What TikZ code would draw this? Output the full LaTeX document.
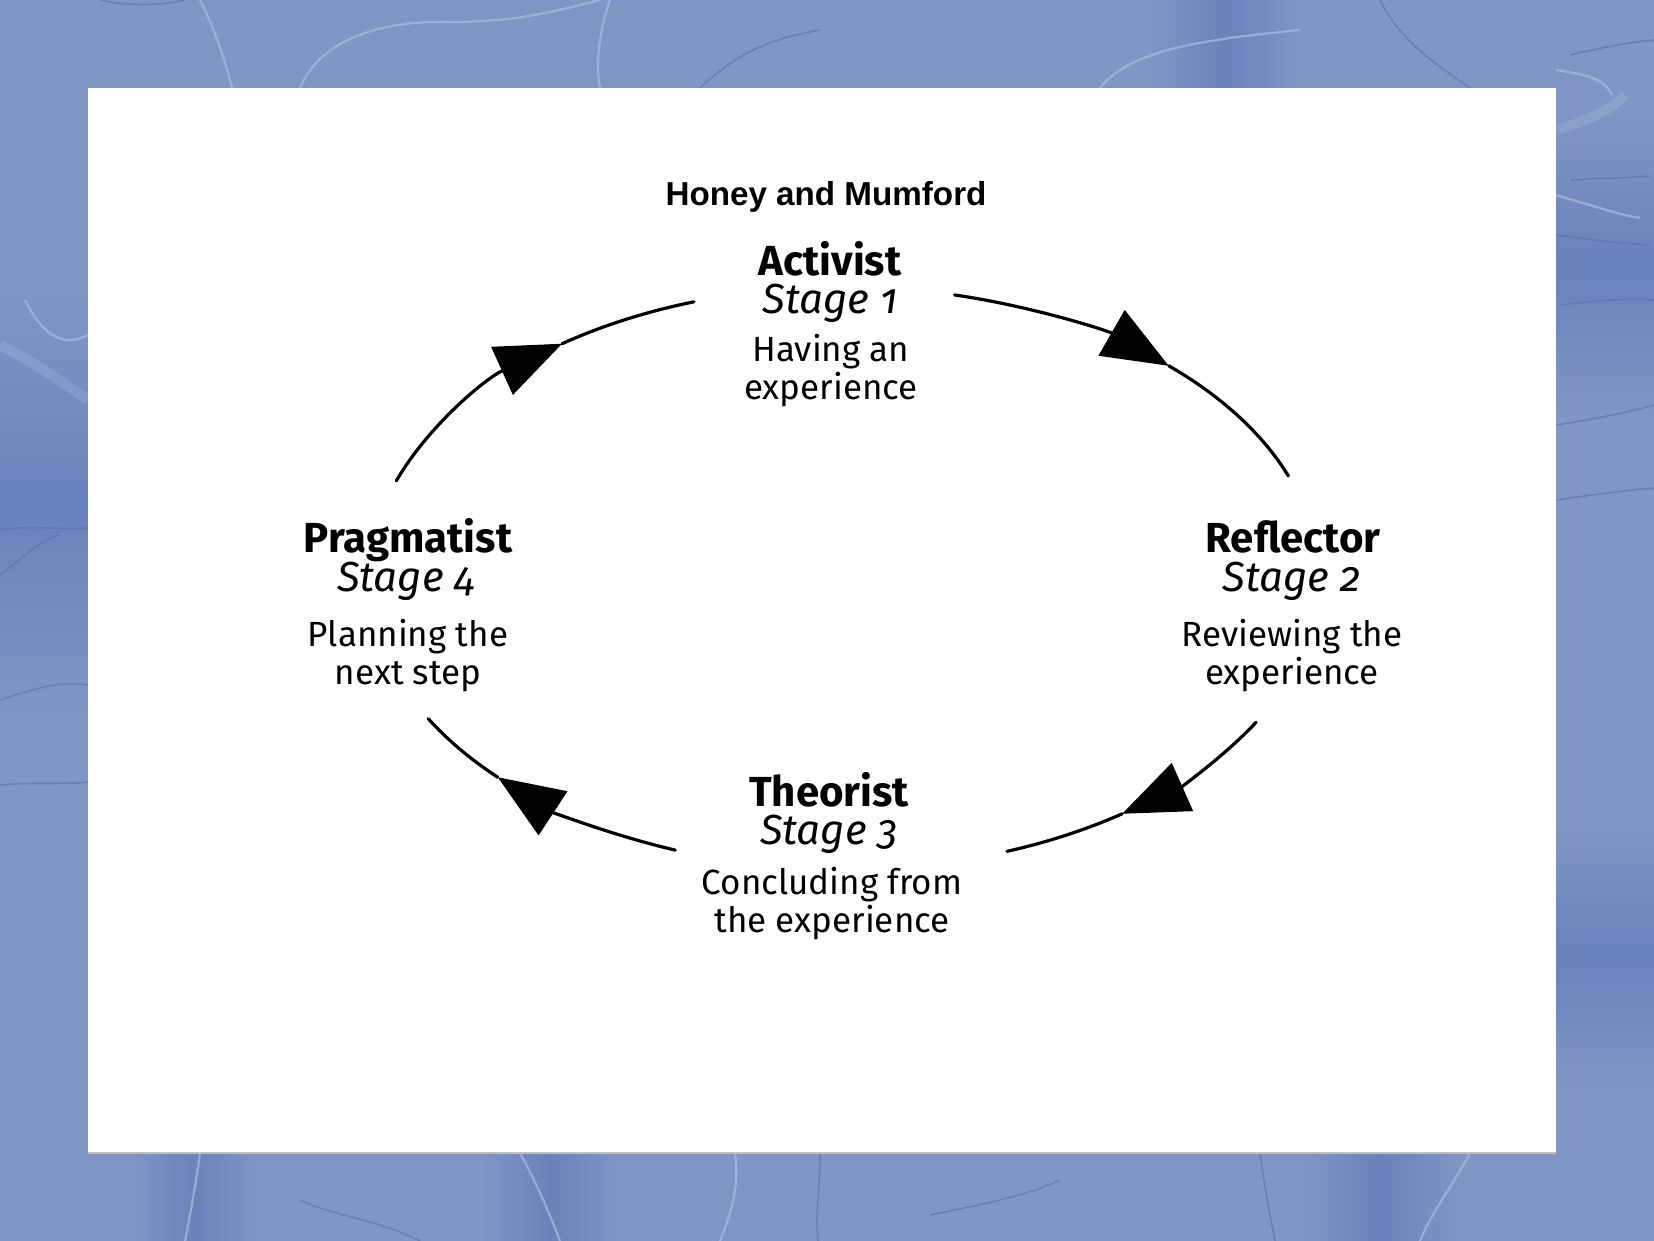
\documentclass[tikz,border=0pt]{standalone}
\usepackage{fontspec}
\setmainfont{Liberation Sans}
\newfontfamily\fira[Numbers=OldStyle]{Fira Sans}
\usetikzlibrary{arrows.meta,calc}
\definecolor{bgblue}{RGB}{128,151,197}
\definecolor{bgdark}{RGB}{106,130,186}
\definecolor{veinlight}{RGB}{168,185,222}
\definecolor{veindark}{RGB}{92,114,168}
\tikzset{
  head/.style={anchor=base,inner sep=0pt,font=\fira\bfseries\fontsize{21}{24}\selectfont},
  stagelbl/.style={anchor=base,inner sep=0pt,font=\fira\itshape\fontsize{21}{24}\selectfont},
  desc/.style={anchor=base,inner sep=0pt,font=\fira\fontsize{17.5}{21}\selectfont},
  conn/.style={line width=1.6pt,line cap=round,black},
  tipped/.style={conn,-{Triangle[length=33pt,width=26pt]}},
  ell/.style={x radius=474.7,y radius=291.1},
  lvein/.style={veinlight,line width=1.1pt,opacity=0.75},
  dvein/.style={veindark,line width=0.8pt,opacity=0.6},
  hband/.style={left color=bgblue,right color=bgblue,middle color=bgdark},
  vband/.style={top color=bgblue,bottom color=bgblue,middle color=bgdark}
}
\begin{document}
\begin{tikzpicture}[x=0.5pt,y=0.5pt]
\useasboundingbox (0,0) rectangle (1654,1241);
% background
\fill[bgblue] (0,0) rectangle (1654,1241);
\shade[hband] (130,0) rectangle (260,88);
\shade[hband] (480,0) rectangle (620,88);
\shade[hband] (1300,0) rectangle (1460,88);
\shade[hband] (1150,1153) rectangle (1300,1241);
\shade[vband] (0,520) rectangle (88,950);
\shade[vband] (1556,820) rectangle (1654,1130);
\shade[vband] (1556,150) rectangle (1654,420);
\begin{scope}[y=-0.5pt,yshift=620.5pt]
  \draw[lvein] (200,0) .. controls (215,30) and (225,60) .. (232,88);
  \draw[lvein] (300,88) .. controls (320,40) and (380,20) .. (450,22);
  \draw[lvein] (450,22) .. controls (520,22) and (560,10) .. (600,0);
  \draw[lvein] (610,0) .. controls (600,30) and (595,60) .. (600,88);
  \draw[dvein] (100,0) .. controls (125,6) and (160,6) .. (185,0);
  \draw[dvein] (700,88) .. controls (730,60) and (760,40) .. (820,30);
  \draw[lvein] (1100,88) .. controls (1130,50) and (1200,40) .. (1300,30);
  \draw[dvein] (1380,0) .. controls (1400,40) and (1430,60) .. (1470,88);
  \draw[lvein,line width=5pt,opacity=0.3] (0,345) .. controls (30,360) and (60,380) .. (88,400);
  \draw[lvein] (25,300) .. controls (40,330) and (60,350) .. (88,335);
  \draw[dvein] (0,530) .. controls (30,525) and (60,530) .. (88,528);
  \draw[dvein] (0,575) .. controls (20,560) and (40,540) .. (60,535);
  \draw[dvein] (0,700) .. controls (30,690) and (60,680) .. (88,685);
  \draw[dvein] (0,785) .. controls (30,782) and (60,785) .. (88,782);
  \draw[lvein,line width=5pt,opacity=0.3] (1556,130) .. controls (1590,120) and (1610,110) .. (1625,95);
  \draw[lvein] (1556,70) .. controls (1590,75) and (1605,80) .. (1612,95);
  \draw[dvein] (1570,55) .. controls (1600,48) and (1630,42) .. (1654,40);
  \draw[dvein] (1570,180) .. controls (1600,178) and (1630,178) .. (1650,176);
  \draw[lvein] (1556,195) .. controls (1590,205) and (1620,215) .. (1640,218);
  \draw[dvein] (1556,235) .. controls (1590,240) and (1620,243) .. (1650,245);
  \draw[dvein] (1560,305) .. controls (1600,300) and (1630,298) .. (1654,300);
  \draw[dvein] (1556,425) .. controls (1590,420) and (1630,412) .. (1654,405);
  \draw[dvein] (1556,500) .. controls (1590,495) and (1630,490) .. (1654,488);
  \draw[lvein] (200,1153) .. controls (195,1190) and (190,1215) .. (185,1241);
  \draw[lvein] (520,1153) .. controls (540,1190) and (550,1215) .. (560,1241);
  \draw[lvein] (735,1153) .. controls (740,1190) and (730,1215) .. (720,1241);
  \draw[dvein] (300,1200) .. controls (330,1215) and (380,1220) .. (420,1241);
  \draw[dvein] (820,1153) .. controls (820,1190) and (815,1215) .. (818,1241);
  \draw[dvein] (930,1215) .. controls (980,1205) and (1030,1195) .. (1060,1180);
  \draw[dvein] (1260,1153) .. controls (1265,1190) and (1270,1215) .. (1275,1241);
  \draw[lvein] (1470,1153) .. controls (1450,1190) and (1430,1215) .. (1420,1241);
\end{scope}
% white panel
\fill[white] (88,88) rectangle (1556,1153);
\draw[black!25,line width=0.6pt] (88,88) -- (1556,88);
% title
\node[anchor=base,inner sep=0pt,font=\bfseries\fontsize{16.6}{19}\selectfont] (title) at (826,1035.3) {Honey and Mumford};
% stage 1
\node[head] (act) at (830,965) {Activist};
\node[stagelbl] (actS) at (830,927) {Stage 1};
\node[desc] (actD) at (831,879.5) {Having an};
\node[desc] (actE) at (831,841) {experience};
% stage 2
\node[head] (ref) at (1293,688) {Reflector};
\node[stagelbl] (refS) at (1292,649) {Stage 2};
\node[desc] (refD) at (1292,594) {Reviewing the};
\node[desc] (refE) at (1292,556) {experience};
% stage 3
\node[head] (the) at (829,434) {Theorist};
\node[stagelbl] (theS) at (829,396) {Stage 3};
\node[desc] (theD) at (832,346) {Concluding from};
\node[desc] (theE) at (832,308) {the experience};
% stage 4
\node[head] (pra) at (408,688) {Pragmatist};
\node[stagelbl] (praS) at (406,649) {Stage 4};
\node[desc] (praD) at (408,594) {Planning the};
\node[desc] (praE) at (408,556) {next step};
% cycle geometry
\coordinate (c) at (843.8,663);
\coordinate (a1s) at ($(c)+(76.5:474.7 and 291.1)$);
\coordinate (a1t) at ($(c)+(46.8:474.7 and 291.1)$);
\coordinate (a2s) at ($(c)+(-29.7:474.7 and 291.1)$);
\coordinate (a2t) at ($(c)+(-54.1:474.7 and 291.1)$);
\coordinate (a3s) at ($(c)+(-110.8:474.7 and 291.1)$);
\coordinate (a3t) at ($(c)+(-136.8:474.7 and 291.1)$);
\coordinate (a4s) at ($(c)+(160.5:474.7 and 291.1)$);
\coordinate (a4t) at ($(c)+(126.4:474.7 and 291.1)$);
% connectors
\draw[tipped] (a1s) arc[ell,start angle=76.5,end angle=46.8];
\draw[conn] (a1t) arc[ell,start angle=46.8,end angle=20.5];
\draw[tipped] (a2s) arc[ell,start angle=-29.7,end angle=-54.1];
\draw[conn] (a2t) arc[ell,start angle=-54.1,end angle=-69.9];
\draw[tipped] (a3s) arc[ell,start angle=-110.8,end angle=-136.8];
\draw[conn] (a3t) arc[ell,start angle=-136.8,end angle=-151.1];
\draw[tipped] (a4s) arc[ell,start angle=160.5,end angle=126.4];
\draw[conn] (a4t) arc[ell,start angle=126.4,end angle=108.4];
\end{tikzpicture}
\end{document}
